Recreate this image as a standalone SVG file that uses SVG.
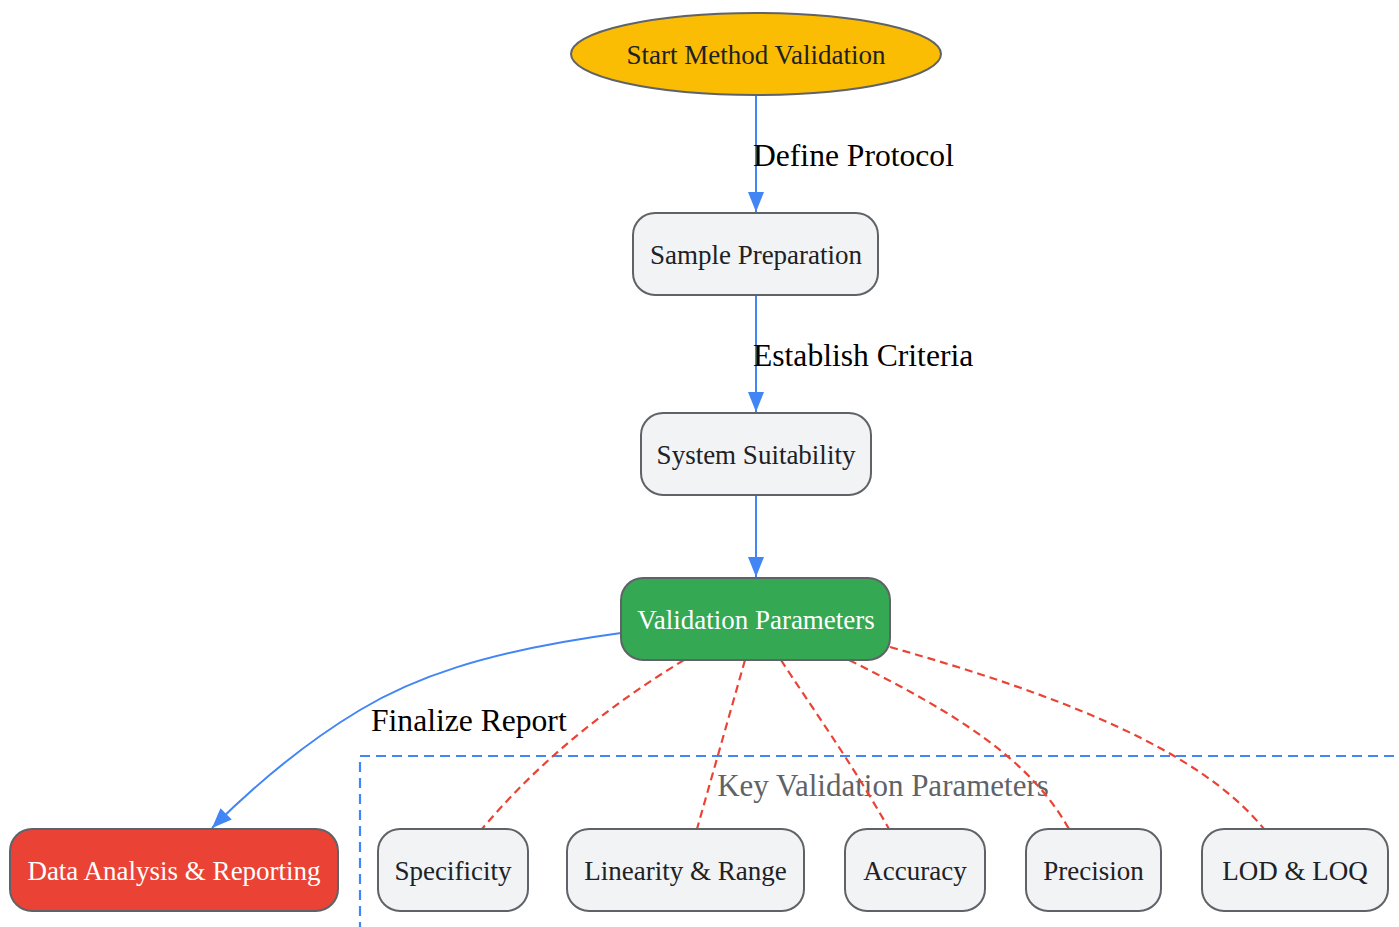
<svg xmlns="http://www.w3.org/2000/svg" width="1399" height="927" viewBox="0 0 1399 927">
<style>
.node{fill:#f1f3f4;stroke:#5f6368;stroke-width:2}
.nt{font-family:"Liberation Serif","Times New Roman",serif;font-size:27px;fill:#202124;text-anchor:middle}
.wt{fill:#ffffff}
.el{font-family:"Liberation Serif","Times New Roman",serif;font-size:31.6px;fill:#000000}
.flow{fill:none;stroke:#4285f4;stroke-width:2}
.rel{fill:none;stroke:#ea4335;stroke-width:2.2;stroke-dasharray:8 5}
.cl{fill:none;stroke:#4285f4;stroke-width:2.2;stroke-dasharray:10 6}
.clt{font-family:"Liberation Serif","Times New Roman",serif;font-size:31px;fill:#5f6368;text-anchor:middle}
</style>
<defs>
<marker id="arr" markerUnits="userSpaceOnUse" markerWidth="20" markerHeight="16" refX="20" refY="8" orient="auto">
<path d="M0,0 L20,8 L0,16 Z" fill="#4285f4"/>
</marker>
</defs>
<g id="cluster">
<rect class="cl" x="360" y="756" width="1100" height="300"/>
<text class="clt" x="883" y="796">Key Validation Parameters</text>
</g>
<g id="connectors">
<path class="flow" d="M756,95 L756,212" marker-end="url(#arr)"/>
<path class="flow" d="M756,295 L756,412" marker-end="url(#arr)"/>
<path class="flow" d="M756,495 L756,577" marker-end="url(#arr)"/>
<path class="flow" d="M621,633 C480,652 410,680 360,710 C300,746 250,790 212,828" marker-end="url(#arr)"/>
<path class="rel" d="M684,660 C610,705 540,760 482,829"/>
<path class="rel" d="M745,660 L697,829"/>
<path class="rel" d="M781,660 C810,705 850,760 889,829"/>
<path class="rel" d="M849,660 C960,715 1030,760 1069,829"/>
<path class="rel" d="M890,647 C1060,695 1200,750 1264,829"/>
<text class="el" x="753" y="166">Define Protocol</text>
<text class="el" x="753" y="366">Establish Criteria</text>
<text class="el" x="371" y="731">Finalize Report</text>
</g>
<g id="start">
<ellipse cx="756" cy="54" rx="185" ry="41" fill="#fbbc04" stroke="#5f6368" stroke-width="2"/>
<text class="nt" x="756" y="64">Start Method Validation</text>
</g>
<g id="sample">
<rect class="node" x="633" y="213" width="245" height="82" rx="22"/>
<text class="nt" x="756" y="264">Sample Preparation</text>
</g>
<g id="suitability">
<rect class="node" x="641" y="413" width="230" height="82" rx="22"/>
<text class="nt" x="756" y="464">System Suitability</text>
</g>
<g id="params">
<rect x="621" y="578" width="269" height="82" rx="22" fill="#34a853" stroke="#5f6368" stroke-width="2"/>
<text class="nt wt" x="756" y="629">Validation Parameters</text>
</g>
<g id="report">
<rect x="10" y="829" width="328" height="82" rx="22" fill="#ea4335" stroke="#5f6368" stroke-width="2"/>
<text class="nt wt" x="174" y="880">Data Analysis &amp; Reporting</text>
</g>
<g id="specificity">
<rect class="node" x="378" y="829" width="150" height="82" rx="22"/>
<text class="nt" x="453" y="880">Specificity</text>
</g>
<g id="linearity">
<rect class="node" x="567" y="829" width="237" height="82" rx="22"/>
<text class="nt" x="685.5" y="880">Linearity &amp; Range</text>
</g>
<g id="accuracy">
<rect class="node" x="845" y="829" width="140" height="82" rx="22"/>
<text class="nt" x="915" y="880">Accuracy</text>
</g>
<g id="precision">
<rect class="node" x="1026" y="829" width="135" height="82" rx="22"/>
<text class="nt" x="1093.5" y="880">Precision</text>
</g>
<g id="lod">
<rect class="node" x="1202" y="829" width="186" height="82" rx="22"/>
<text class="nt" x="1295" y="880">LOD &amp; LOQ</text>
</g>
</svg>
